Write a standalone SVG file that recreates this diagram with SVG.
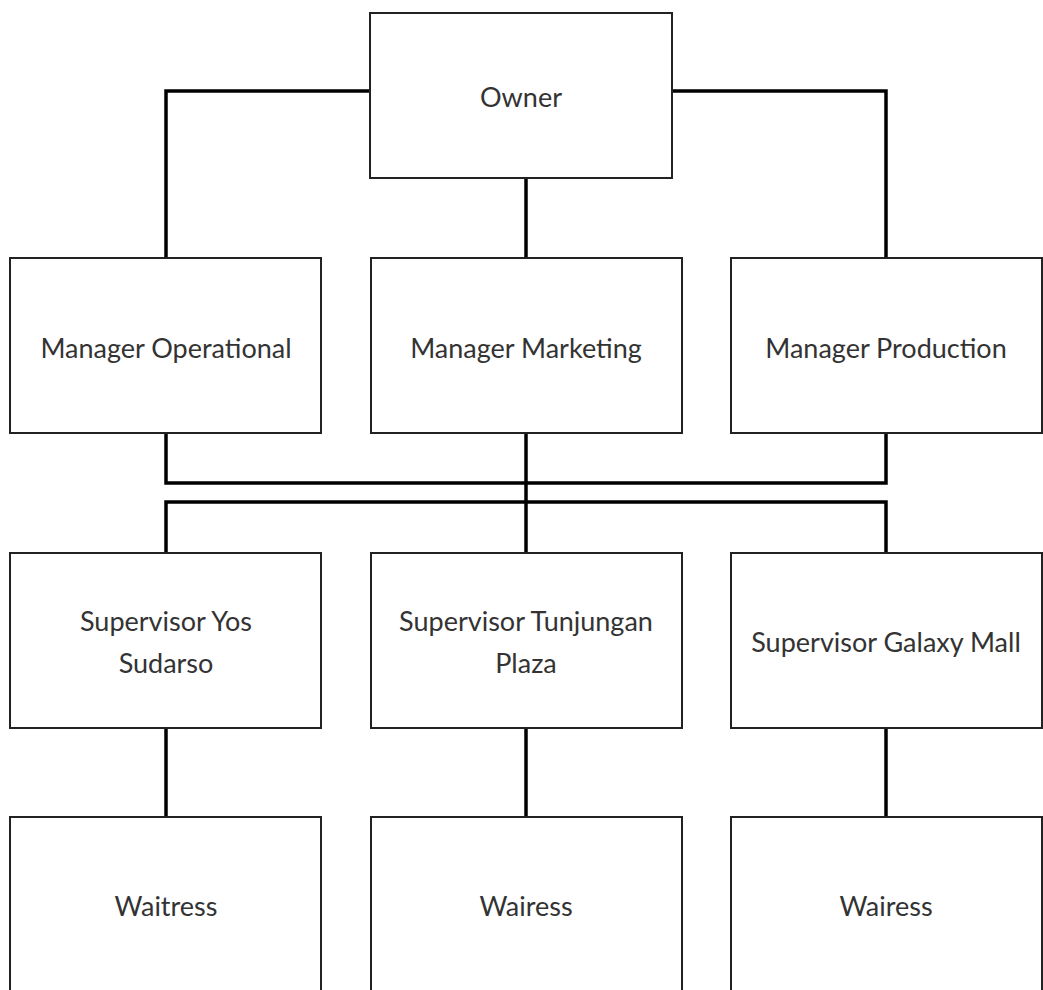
<svg xmlns="http://www.w3.org/2000/svg" width="1043" height="990" viewBox="0 0 1043 990">
<style>
.box{fill:#fff;stroke:#222;stroke-width:2}
.lbl{font-family:Lato,"Liberation Sans",sans-serif;font-size:27px;fill:#333;text-anchor:middle}
.con{fill:none;stroke:#000;stroke-width:3.5;stroke-linejoin:miter;stroke-linecap:butt}
</style>
<rect width="1043" height="990" fill="#fff"/>
<g id="connectors">
<path class="con" d="M370 91 H166 V258"/>
<path class="con" d="M672 91 H886 V258"/>
<path class="con" d="M526 178 V258"/>
<path class="con" d="M166 433 V483 H886 V433"/>
<path class="con" d="M526 433 V553"/>
<path class="con" d="M166 553 V502 H886 V553"/>
<path class="con" d="M166 728 V817"/>
<path class="con" d="M526 728 V817"/>
<path class="con" d="M886 728 V817"/>
</g>
<g id="owner"><rect class="box" x="370" y="13" width="302" height="165"/><text class="lbl" x="521" y="107">Owner</text></g>
<g id="mgr-op"><rect class="box" x="10" y="258" width="311" height="175"/><text class="lbl" x="166" y="358">Manager Operational</text></g>
<g id="mgr-mk"><rect class="box" x="371" y="258" width="311" height="175"/><text class="lbl" x="526" y="358">Manager Marketing</text></g>
<g id="mgr-pr"><rect class="box" x="731" y="258" width="311" height="175"/><text class="lbl" x="886" y="358">Manager Production</text></g>
<g id="sup-yos"><rect class="box" x="10" y="553" width="311" height="175"/><text class="lbl" x="166" y="631">Supervisor Yos</text><text class="lbl" x="166" y="673">Sudarso</text></g>
<g id="sup-tp"><rect class="box" x="371" y="553" width="311" height="175"/><text class="lbl" x="526" y="631">Supervisor Tunjungan</text><text class="lbl" x="526" y="673">Plaza</text></g>
<g id="sup-gm"><rect class="box" x="731" y="553" width="311" height="175"/><text class="lbl" x="886" y="652">Supervisor Galaxy Mall</text></g>
<g id="w1"><rect class="box" x="10" y="817" width="311" height="185"/><text class="lbl" x="166" y="916">Waitress</text></g>
<g id="w2"><rect class="box" x="371" y="817" width="311" height="185"/><text class="lbl" x="526" y="916">Wairess</text></g>
<g id="w3"><rect class="box" x="731" y="817" width="311" height="185"/><text class="lbl" x="886" y="916">Wairess</text></g>
</svg>
